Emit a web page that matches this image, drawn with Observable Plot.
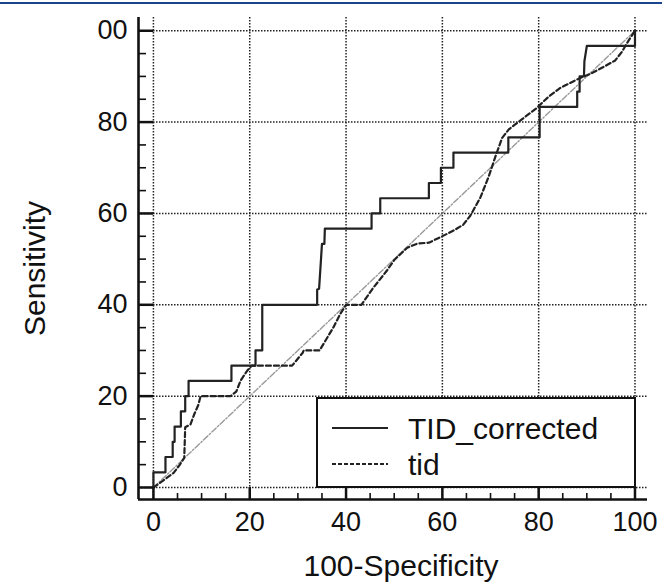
<!DOCTYPE html>
<html><head><meta charset="utf-8">
<script src="https://cdn.jsdelivr.net/npm/d3@7"></script>
<script src="https://cdn.jsdelivr.net/npm/@observablehq/plot@0.6"></script>
<style>
body{margin:0;background:#fff;font-family:"Liberation Sans",Arial,sans-serif;}
#wrap{position:relative;width:662px;height:584px;overflow:hidden;background:#fff;}
#topbar{position:absolute;left:0;top:2px;width:662px;height:2px;background:#18458b;}
#legend{position:absolute;left:316px;top:397px;width:316px;height:87px;border:2px solid #111;background:#fff;}
#legend svg{position:absolute;left:0;top:0;}
</style></head><body>
<div id="wrap"><div id="chart"></div><div id="topbar"></div><div id="legend"></div></div>
<script>
// ---- data ----
const corrFpr  = [0,0,2.5,2.5,4.0,4.0,4.4,4.4,5.7,5.7,6.6,6.6,7.3,7.3,16.2,16.2,21.2,21.2,22.6,22.6,34.0,34.0,34.4,34.8,35.0,35.5,35.6,45.3,45.3,47.1,47.1,57.2,57.2,59.7,59.7,62.3,62.3,73.7,73.7,80.2,80.2,88.0,88.0,88.5,88.5,89.4,89.5,90.0,100,100];
const corrSens = [0,3.33,3.33,6.67,6.67,10,10,13.33,13.33,16.67,16.67,20,20,23.33,23.33,26.67,26.67,30,30,40,40,43.33,43.5,50,53.33,53.33,56.67,56.67,60,60,63.33,63.33,66.67,66.67,70,70,73.33,73.33,76.67,76.67,83.33,83.33,86.67,86.67,90,90,93.33,96.67,96.67,100];

const tidFpr  = [0,2.0,4.2,5.5,6.4,6.6,7.7,8.5,9.3,9.8,16.0,17.2,18.1,19.5,20.4,28.8,31.0,31.2,34.5,37.4,38.8,40,43.2,45.5,48.5,50.0,52.7,54.8,57.2,59.6,62.4,64.3,65.8,67.9,69.6,71.0,72.4,73.8,76.5,79.5,82.0,84.5,88.3,90.8,93.5,95.9,97.3,98.7,100];
const tidSens = [0,1.5,3.2,5.0,6.5,13.2,13.8,16.1,18.0,20,20,21.0,23.4,25.6,26.67,26.67,29.5,30,30,35.1,38.0,40,40,43.5,47.5,49.8,52.5,53.4,53.6,54.8,56.3,57.5,59.5,63.5,68.0,72.4,76.5,78.4,80.6,83.0,85.5,87.5,89.5,90.6,92.1,93.5,95.4,97.9,100];

const diagFpr = [0,100];
const diagSens = [0,100];

const xTicks = [0,20,40,60,80,100];
const xTickLabels = ["0","20","40","60","80","100"];
const yTicks = [0,20,40,60,80,100];
const yTickLabels = ["0","20","40","60","80","00"];
const minorTicks = [5,10,15,25,30,35,45,50,55,65,70,75,85,90,95];

const seriesNames = ["TID_corrected","tid"];
const xTitle = "100-Specificity";
const yTitle = "Sensitivity";

// ---- layout ----
const W = 662, H = 584;
const mL = 138, mR = 15, mT = 17, mB = 85;
const xDomain = [-3.1, 102.6];
const yDomain = [-2.63, 102.9];
const pxX = (W - mL - mR) / (xDomain[1] - xDomain[0]);
const pxY = (H - mT - mB) / (yDomain[1] - yDomain[0]);

const corrected = corrFpr.map((x, i) => ({x, y: corrSens[i]}));
const tid = tidFpr.map((x, i) => ({x, y: tidSens[i]}));
const diag = diagFpr.map((x, i) => ({x, y: diagSens[i]}));
const xLab = new Map(xTicks.map((t, i) => [t, xTickLabels[i]]));
const yLab = new Map(yTicks.map((t, i) => [t, yTickLabels[i]]));

const ink = "#111";
const chart = Plot.plot({
  width: W, height: H,
  marginLeft: mL, marginRight: mR, marginTop: mT, marginBottom: mB,
  style: {fontFamily: '"Liberation Sans", Arial, sans-serif', fontSize: "27px", color: ink, background: "transparent"},
  x: {domain: xDomain, axis: null},
  y: {domain: yDomain, axis: null},
  marks: [
    Plot.gridX(xTicks, {stroke: "#222", strokeOpacity: 1, strokeWidth: 1.5, strokeDasharray: "1.5,1.5"}),
    Plot.gridY(yTicks, {stroke: "#222", strokeOpacity: 1, strokeWidth: 1.5, strokeDasharray: "1.5,1.5"}),
    Plot.line(diag, {x: "x", y: "y", stroke: "#999", strokeWidth: 1.4, strokeDasharray: "6,2,1.5,2"}),
    Plot.line(tid, {x: "x", y: "y", stroke: "#222", strokeWidth: 2.2, strokeDasharray: "5,3"}),
    Plot.line(corrected, {x: "x", y: "y", stroke: "#222", strokeWidth: 2.2}),
    // major and minor ticks (pointing inward)
    Plot.ruleX(xTicks, {x: d => d, y1: yDomain[0], y2: yDomain[0] + 12 / pxY, stroke: ink, strokeWidth: 2.5}),
    Plot.ruleX(minorTicks, {x: d => d, y1: yDomain[0], y2: yDomain[0] + 6 / pxY, stroke: ink, strokeWidth: 1.6}),
    Plot.ruleY(yTicks, {y: d => d, x1: xDomain[0], x2: xDomain[0] + 15 / pxX, stroke: ink, strokeWidth: 2.5}),
    Plot.ruleY(minorTicks, {y: d => d, x1: xDomain[0], x2: xDomain[0] + 8 / pxX, stroke: ink, strokeWidth: 1.6}),
    // axis lines
    Plot.ruleY([yDomain[0]], {stroke: ink, strokeWidth: 2.6}),
    Plot.ruleX([xDomain[0]], {stroke: ink, strokeWidth: 2.6}),
    Plot.axisX(xTicks, {anchor: "bottom", tickSize: 0, tickPadding: 12, tickFormat: d => xLab.get(d), label: null, fill: ink}),
    Plot.axisY(yTicks, {anchor: "left", tickSize: 0, tickPadding: 11, tickFormat: d => yLab.get(d), label: null, fill: ink}),
    Plot.text([xTitle], {frameAnchor: "bottom", textAnchor: "middle", lineAnchor: "middle", dx: 8, dy: 67, fontSize: 30, fill: ink, text: d => d}),
    Plot.text([yTitle], {frameAnchor: "left", textAnchor: "middle", lineAnchor: "middle", dx: -103, dy: 10, rotate: -90, fontSize: 30, fill: ink, text: d => d})
  ]
});
document.getElementById("chart").appendChild(chart);

// ---- legend ----
const leg = d3.select("#legend").append("svg").attr("width", 316).attr("height", 87);
const rows = [{name: seriesNames[0], dash: null, y: 29}, {name: seriesNames[1], dash: "4,2", y: 65}];
rows.forEach(r => {
  leg.append("line").attr("x1", 14).attr("x2", 70).attr("y1", r.y).attr("y2", r.y)
    .attr("stroke", "#222").attr("stroke-width", 1.8).attr("stroke-dasharray", r.dash);
  leg.append("text").attr("x", 90).attr("y", r.y).attr("dy", "0.35em")
    .attr("font-size", 30).attr("fill", ink)
    .attr("font-family", '"Liberation Sans", Arial, sans-serif').text(r.name);
});
</script></body></html>
